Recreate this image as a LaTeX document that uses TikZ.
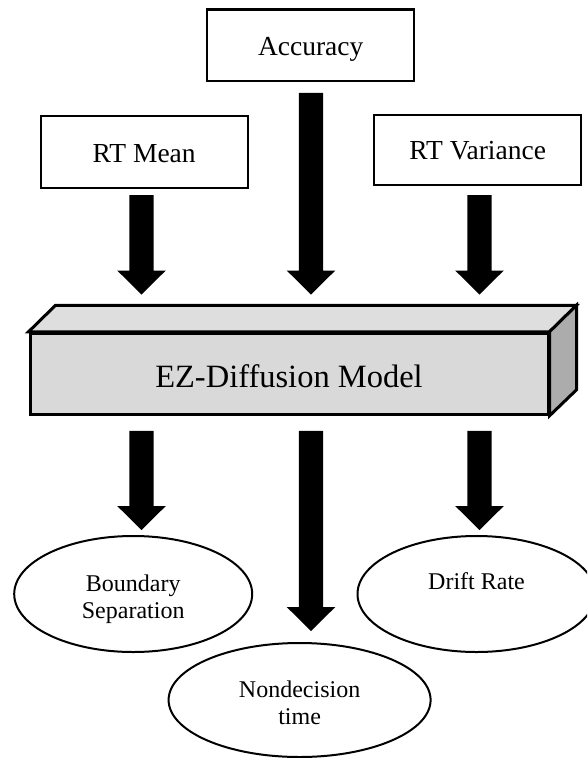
\documentclass[tikz,border=0pt]{standalone}
\usepackage{fontspec}
\setmainfont{Liberation Serif}
\usetikzlibrary{calc,shapes.geometric}

% thick block arrow: shaft from #1 straight down to the tip height of #2
\newcommand\fatarrow[2]{%
  \fill let \p1=#1, \p2=#2 in
    (\x1-12.2pt,\y1) -- (\x1+12.2pt,\y1) -- (\x1+12.2pt,\y2+24pt)
    -- (\x1+24.3pt,\y2+24pt) -- (\x1,\y2) -- (\x1-24.3pt,\y2+24pt)
    -- (\x1-12.2pt,\y2+24pt) -- cycle;}

\definecolor{frontgray}{HTML}{D9D9D9}
\definecolor{topgray}{HTML}{DEDEDE}
\definecolor{sidegray}{HTML}{ACACAC}

\tikzset{
  inbox/.style={draw, line width=2.3pt, rectangle, inner sep=0pt,
    minimum width=207pt, minimum height=71.5pt,
    font=\fontsize{27.5pt}{31pt}\selectfont, text height=20.4pt, text depth=0pt},
  outoval/.style={draw, line width=2pt, ellipse, inner sep=0pt,
    minimum width=238pt, minimum height=116pt, align=center,
    font=\fontsize{24pt}{26.8pt}\selectfont},
  cube/.style={draw, line width=3pt, line join=miter}
}

\begin{document}
\begin{tikzpicture}[x=1pt,y=-1pt]
\useasboundingbox (0,0) rectangle (587,758);
\clip (0,0) rectangle (587,758);

% input measures
\node[inbox] (acc) at (310.7,45.2) {Accuracy};
\node[inbox] (mean) at (144.2,151.9) {RT Mean};
\node[inbox, minimum height=70pt] (var) at (477.7,149.7) {RT Variance};

% the model block
\node[cube, fill=frontgray, minimum width=518pt, minimum height=81pt, inner sep=0pt,
      font=\fontsize{32.5pt}{36pt}\selectfont, text height=27.6pt, text depth=0pt]
      (ez) at (289,373.8) {EZ-Diffusion Model};
\draw[cube, fill=topgray] (ez.north west) -- ++(27,-26.5) -- ($(ez.north east)+(27,-26.5)$)
      -- (ez.north east) -- cycle;
\draw[cube, fill=sidegray] (ez.north east) -- ++(27,-26.5) -- ($(ez.south east)+(27,-26)$)
      -- (ez.south east) -- cycle;

% estimated parameters
\node[outoval] (bsep) at (133.2,594) {\rule{0pt}{27.2pt}Boundary\\Separation};
\node[outoval] (drift) at (476.5,594) {\rule{0pt}{18.5pt}Drift Rate\\\mbox{}};
\node[outoval, minimum width=262pt, minimum height=114pt] (nondec) at (299.6,700)
      {\rule{0pt}{22pt}Nondecision\\time};

% arrows into the model
\fatarrow{([xshift=-2.7pt,yshift=-6.3pt]mean.south)}{([yshift=37.3pt]ez.north)}
\fatarrow{([xshift=0.3pt,yshift=-10.7pt]acc.south)}{([yshift=37.3pt]ez.north)}
\fatarrow{([xshift=1.8pt,yshift=-9.3pt]var.south)}{([yshift=37.3pt]ez.north)}

% arrows out of the model
\fatarrow{($(ez.south -| mean.south)+(-2.7,15)$)}{([yshift=5pt]bsep.north)}
\fatarrow{($(ez.south -| acc.south)+(0.3,15)$)}{([yshift=11pt]nondec.north)}
\fatarrow{($(ez.south -| var.south)+(1.8,15)$)}{([yshift=5pt]drift.north)}
\end{tikzpicture}
\end{document}
